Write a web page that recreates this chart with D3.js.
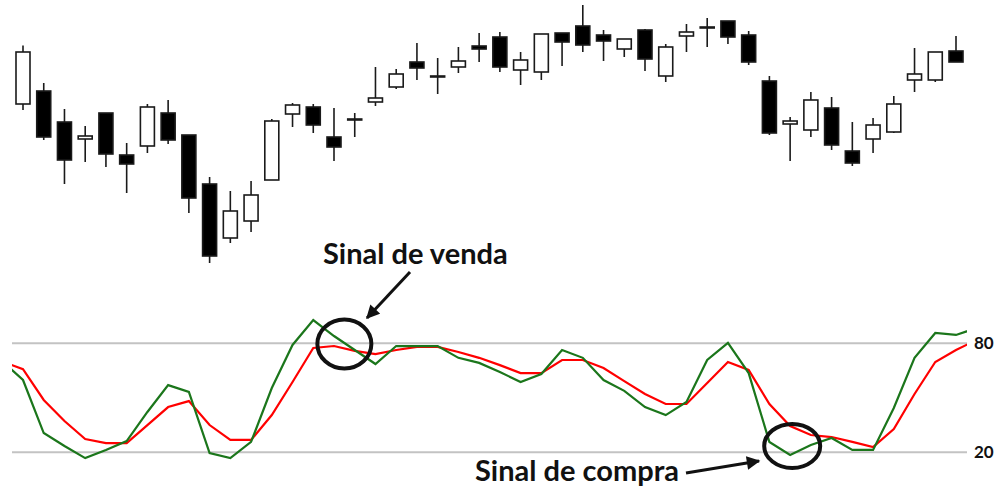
<!DOCTYPE html>
<html>
<head>
<meta charset="utf-8">
<script src="https://cdn.jsdelivr.net/npm/d3@7"></script>
<style>
	html, body { margin: 0; padding: 0; background: #fff; }
	svg { display: block; }
</style>
</head>
<body>
<div id="grafico"></div>
<script>
/*
 * Dados (candles + estocastico)
 */
var abertura   = [23.12,23.38,22.76,22.42,22.94,22.10,22.28,22.94,22.50,21.52,20.44,20.78,21.60,22.92,23.06,22.46,22.82,23.16,23.46,23.96,23.68,23.86,24.28,24.46,23.80,23.76,24.54,24.68,24.50,24.22,24.60,23.68,24.48,24.66,24.78,24.50,23.58,22.72,22.60,23.04,22.18,22.42,22.56,23.60,23.60,24.18];
var maxima     = [24.29,23.54,23.02,22.68,22.94,22.34,23.12,23.20,22.50,21.66,21.38,21.58,22.82,23.14,23.12,23.04,22.94,23.86,23.82,24.34,24.04,24.26,24.54,24.56,24.16,24.52,24.54,25.10,24.60,24.42,24.62,24.32,24.72,24.84,24.78,24.58,23.68,22.86,23.36,23.26,22.76,22.84,23.28,24.24,24.16,24.48];
var minima     = [23.00,22.40,21.52,21.96,21.86,21.34,22.14,22.32,20.94,19.94,20.34,20.56,21.60,22.66,22.54,21.98,22.46,23.08,23.42,23.60,23.32,23.74,23.96,23.76,23.50,23.60,23.88,24.16,23.98,24.06,23.78,23.56,24.16,24.26,24.32,23.90,22.50,21.98,22.46,22.20,21.88,22.14,22.54,23.36,23.56,23.96];
var fechamento = [24.16,22.46,22.00,22.48,22.12,21.92,23.06,22.40,21.24,20.08,20.98,21.30,22.78,23.10,22.70,22.26,22.82,23.24,23.72,23.84,23.68,23.98,24.22,23.86,24.00,24.52,24.36,24.30,24.38,24.42,24.02,24.26,24.56,24.66,24.46,23.96,22.54,22.78,23.20,22.30,21.94,22.70,23.12,23.72,24.16,23.96];

// Estocastico: o primeiro valor e do periodo anterior, o ultimo do seguinte
var indiceInicial = -1;
var linhaK = [70.2,59.8,30.6,23.5,16.8,21.3,26.2,42.2,57.0,53.2,19.6,16.8,25.7,55.4,79.1,92.8,84.0,76.3,68.6,78.5,78.5,78.5,72.0,69.2,64.2,58.7,63.1,76.3,72.0,59.8,53.8,44.9,40.5,47.7,70.8,80.2,63.6,25.7,18.5,24.0,27.9,21.3,21.3,44.4,72.0,85.7,84.6,88.4];
var linhaD = [70.0,65.8,48.8,37.2,27.3,25.1,25.1,35.0,44.9,48.2,35.0,26.8,26.8,40.5,58.7,77.4,78.5,75.8,74.1,76.3,78.0,78.0,75.2,72.0,68.0,63.6,63.6,70.8,70.8,66.4,59.2,52.1,46.6,46.6,58.1,69.7,65.3,46.6,34.5,29.5,28.4,25.7,22.9,32.8,52.1,69.7,76.3,81.9];

var niveis = [80, 20];

/*
 * SVG
 */
var svgWidth = 1004;
var svgHeight = 487;

var svg = d3.select("#grafico")
  .append("svg")
  .attr("width", svgWidth)
  .attr("height", svgHeight);

var x = d3.scaleLinear().domain([0, abertura.length - 1]).range([23, 956]);
var yPreco = d3.scaleLinear().domain([19.8, 25.2]).range([270, 0]);
var yEst = d3.scaleLinear().domain([20, 80]).range([452.3, 343.3]);

var larguraCorpo = 14;
var fonte = "Lato, 'Open Sans', sans-serif";

/*
 * Candles
 */
var candles = svg.append("g").selectAll("g")
  .data(abertura)
  .enter()
  .append("g");

candles.append("line")
  .attr("x1", function(d,i){ return x(i); })
  .attr("x2", function(d,i){ return x(i); })
  .attr("y1", function(d,i){ return yPreco(maxima[i]); })
  .attr("y2", function(d,i){ return yPreco(minima[i]); })
  .attr("stroke", "#1a1a1a")
  .attr("stroke-width", 1.6);

candles.append("rect")
  .attr("x", function(d,i){ return x(i) - larguraCorpo/2; })
  .attr("width", larguraCorpo)
  .attr("y", function(d,i){ return yPreco(Math.max(abertura[i], fechamento[i])); })
  .attr("height", function(d,i){
		var h = Math.abs(yPreco(abertura[i]) - yPreco(fechamento[i]));
		return Math.max(h, 1);
	})
  .attr("fill", function(d,i){ return fechamento[i] > abertura[i] ? "#fff" : "#000"; })
  .attr("stroke", "#1a1a1a")
  .attr("stroke-width", 1.6);

/*
 * Estocastico
 */
svg.append("clipPath")
  .attr("id", "recorte")
  .append("rect")
  .attr("x", 12).attr("y", 290)
  .attr("width", 955).attr("height", 190);

svg.append("g").selectAll("line")
  .data(niveis)
  .enter()
  .append("line")
  .attr("x1", 12)
  .attr("x2", 967)
  .attr("y1", function(d){ return yEst(d); })
  .attr("y2", function(d){ return yEst(d); })
  .attr("stroke", "#c3c3c3")
  .attr("stroke-width", 2);

svg.append("g").selectAll("text")
  .data(niveis)
  .enter()
  .append("text")
  .attr("x", 974)
  .attr("y", function(d){ return yEst(d) + 6; })
  .attr("font-family", fonte)
  .attr("font-weight", "bold")
  .attr("font-size", 17)
  .attr("fill", "#111")
  .text(function(d){ return d; });

var linha = d3.line()
  .x(function(d,i){ return x(i + indiceInicial); })
  .y(function(d){ return yEst(d); });

var plot = svg.append("g").attr("clip-path", "url(#recorte)");

plot.append("path")
  .attr("d", linha(linhaD))
  .attr("fill", "none")
  .attr("stroke", "#ff0000")
  .attr("stroke-width", 2.2);

plot.append("path")
  .attr("d", linha(linhaK))
  .attr("fill", "none")
  .attr("stroke", "#1b761b")
  .attr("stroke-width", 2.2);

/*
 * Anotacoes
 */
svg.append("defs").append("marker")
  .attr("id", "seta")
  .attr("viewBox", "0 0 10 10")
  .attr("refX", 9)
  .attr("refY", 5)
  .attr("markerWidth", 5)
  .attr("markerHeight", 4.5)
  .attr("markerUnits", "strokeWidth")
  .attr("orient", "auto")
  .append("path")
  .attr("d", "M0,0 L10,5 L0,10 Z")
  .attr("fill", "#111");

// Circulos de sinal
svg.append("ellipse")
  .attr("cx", x(15.5)).attr("cy", yEst(79.6))
  .attr("rx", 27).attr("ry", 24.5)
  .attr("fill", "none")
  .attr("stroke", "#111")
  .attr("stroke-width", 4);

svg.append("ellipse")
  .attr("cx", x(37.1)).attr("cy", yEst(23.5))
  .attr("rx", 28).attr("ry", 22)
  .attr("fill", "none")
  .attr("stroke", "#111")
  .attr("stroke-width", 4);

svg.append("line")
  .attr("x1", 410).attr("y1", 272)
  .attr("x2", 367).attr("y2", 318)
  .attr("stroke", "#111")
  .attr("stroke-width", 3)
  .attr("marker-end", "url(#seta)");

svg.append("line")
  .attr("x1", 686).attr("y1", 473)
  .attr("x2", 759).attr("y2", 461)
  .attr("stroke", "#111")
  .attr("stroke-width", 3)
  .attr("marker-end", "url(#seta)");

svg.append("text")
  .attr("x", 323).attr("y", 264)
  .attr("font-family", fonte)
  .attr("font-weight", "bold")
  .attr("font-size", 29)
  .attr("fill", "#111")
  .text("Sinal de venda");

svg.append("text")
  .attr("x", 475).attr("y", 481)
  .attr("font-family", fonte)
  .attr("font-weight", "bold")
  .attr("font-size", 29)
  .attr("fill", "#111")
  .text("Sinal de compra");
</script>
</body>
</html>
